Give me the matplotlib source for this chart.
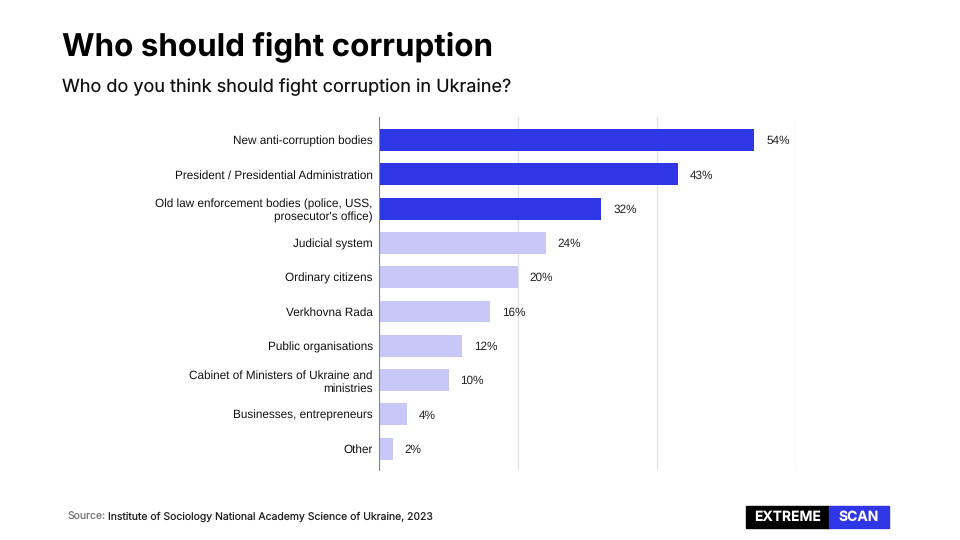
import matplotlib
matplotlib.use('Agg')
import matplotlib.pyplot as plt

plt.rcParams['font.family'] = ['Inter', 'DejaVu Sans']
plt.rcParams['text.hinting'] = 'no_hinting'

categories = [
    "New anti-corruption bodies",
    "President / Presidential Administration",
    "Old law enforcement bodies (police, USS,\nprosecutor's office)",
    "Judicial system",
    "Ordinary citizens",
    "Verkhovna Rada",
    "Public organisations",
    "Cabinet of Ministers of Ukraine and\nministries",
    "Businesses, entrepreneurs",
    "Other",
]
values = [54, 43, 32, 24, 20, 16, 12, 10, 4, 2]
highlight = [True, True, True, False, False, False, False, False, False, False]

DARK = '#2E36E6'
LIGHT = '#C7C8F8'
LABEL_FONT = ['Liberation Sans', 'DejaVu Sans']

fig = plt.figure(figsize=(9.6, 5.4), dpi=100)
ax = fig.add_axes([379/960, 1-470/540, (796-379)/960, (470-117)/540])

ypos = range(len(categories))
colors = [DARK if h else LIGHT for h in highlight]
ax.barh(ypos, values, height=0.64, color=colors, zorder=3)

for y, v in zip(ypos, values):
    ax.text(v + 1.7, y + 0.03, f"{v}%", va='center', ha='left', fontsize=8.5,
            color='#222222', family=LABEL_FONT)

ax.set_xlim(0, 60)
ax.set_ylim(9.62, -0.67)
ax.set_xticks([0, 20, 40, 60])
ax.set_xticklabels([])
ax.tick_params(axis='x', length=0)
ax.xaxis.grid(True, color='#E3E3E3', linewidth=1, zorder=0)
ax.set_yticks(list(ypos))
ax.set_yticklabels(categories, fontsize=8.5, color='#111111', family=LABEL_FONT)
ax.tick_params(axis='y', length=0, pad=4.5)
for side in ['top', 'right', 'bottom']:
    ax.spines[side].set_visible(False)
ax.spines['left'].set_color('#888888')
ax.spines['left'].set_zorder(4)

fig.text(62/960, 1-47/540, "Who should fight corruption", fontsize=22.6, fontweight='bold',
         va='center', ha='left', color='#000000')
fig.text(62/960, 1-87/540, "Who do you think should fight corruption in Ukraine?", fontsize=13,
         va='center', ha='left', color='#111111')

fig.text(68/960, 1-517/540, "Source:", fontsize=7.5, color='#777777', va='center', ha='left')
fig.text(108/960, 1-517/540, "Institute of Sociology National Academy Science of Ukraine, 2023",
         fontsize=7.5, color='#222222', va='center', ha='left')

# logo
fig.patches.append(plt.Rectangle((746/960, 1-528/540), (829-746)/960, 22/540,
                                 transform=fig.transFigure, color='#000000', zorder=5))
fig.patches.append(plt.Rectangle((829/960, 1-528/540), (889-829)/960, 22/540,
                                 transform=fig.transFigure, color='#2E36E6', zorder=5))
fig.text(787.5/960, 1-517/540, "EXTREME", fontsize=10, fontweight='bold', color='white',
         va='center', ha='center', zorder=6)
fig.text(859/960, 1-517/540, "SCAN", fontsize=10, fontweight='bold', color='white',
         va='center', ha='center', zorder=6)

fig.savefig('out.png', dpi=100)
